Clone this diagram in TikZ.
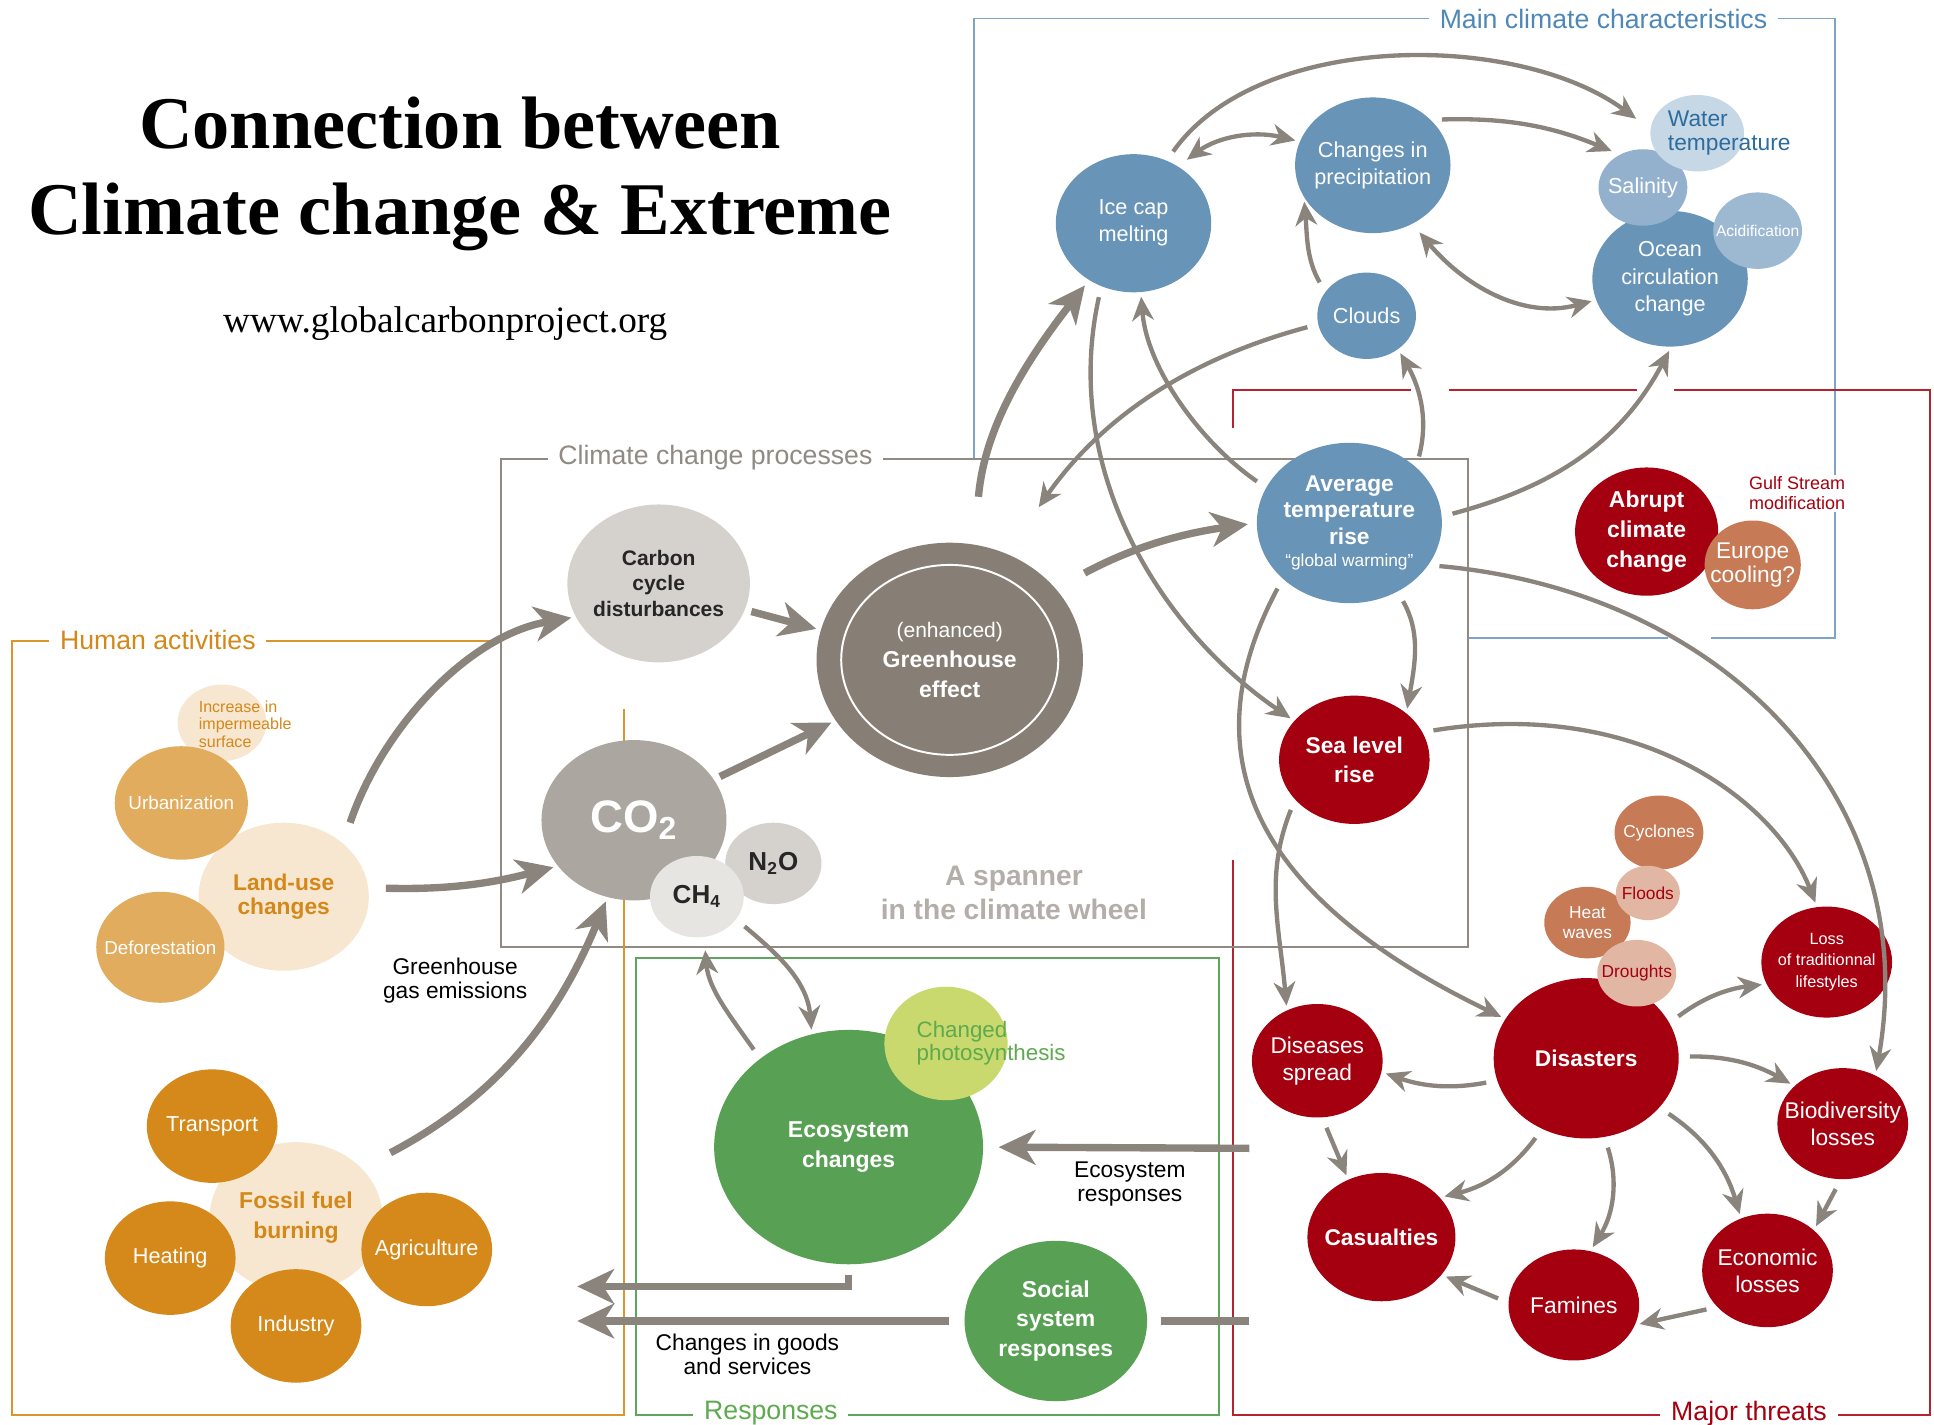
\documentclass[tikz,border=0pt]{standalone}
\usepackage{fontspec}
\setmainfont{Liberation Sans}
\newfontfamily\titlefont{Liberation Serif}
\usetikzlibrary{arrows.meta,shapes.geometric}

\definecolor{arrowgray}{HTML}{8B847C}
\definecolor{frameblue}{HTML}{7FA5C6}
\definecolor{inkblue}{HTML}{4F88B7}
\definecolor{bubblue}{HTML}{6894B8}
\definecolor{salblue}{HTML}{93B1CD}
\definecolor{acidblue}{HTML}{9DB9D2}
\definecolor{waterblue}{HTML}{C6D7E6}
\definecolor{waterink}{HTML}{2D6C9C}
\definecolor{threatred}{HTML}{A5000F}
\definecolor{framered}{HTML}{B42430}
\definecolor{rust}{HTML}{C77A56}
\definecolor{blush}{HTML}{E1B7A3}
\definecolor{framegray}{HTML}{908A82}
\definecolor{paleash}{HTML}{D5D2CE}
\definecolor{smoke}{HTML}{877F76}
\definecolor{ash}{HTML}{ABA69F}
\definecolor{mist}{HTML}{E7E5E2}
\definecolor{spannergray}{HTML}{B3AEA8}
\definecolor{frameorange}{HTML}{D9962E}
\definecolor{inkorange}{HTML}{D4881A}
\definecolor{sand}{HTML}{E2AC5E}
\definecolor{amber}{HTML}{D4891A}
\definecolor{cream}{HTML}{F7E7D0}
\definecolor{leaf}{HTML}{58A053}
\definecolor{lime}{HTML}{C9D96D}
\definecolor{inkgreen}{HTML}{5DAA4F}
\definecolor{framegreen}{HTML}{5DA65B}

\newcommand{\fsz}[2]{\fontsize{#1}{#2}\selectfont}

\begin{document}
\begin{tikzpicture}[x=0.02cm,y=-0.02cm,
  bub/.style 2 args={ellipse,inner sep=-20pt,minimum width=#1*0.02cm,
    minimum height=#2*0.02cm,align=center},
  climate/.style={fill=bubblue,text=white,font=\fsz{10}{12.5}},
  threat/.style={fill=threatred,text=white,font=\fsz{10.5}{12.5}},
  hazard/.style={fill=rust,text=white,font=\fsz{8}{9}},
  hazardlight/.style={fill=blush,text=threatred,font=\fsz{8}{9}},
  process/.style={fill=paleash,text=black!85,font=\bfseries\fsz{9.7}{11.7}},
  human/.style={fill=amber,text=white,font=\fsz{10}{12}},
  humanlight/.style={fill=sand,text=white,font=\fsz{8.7}{10}},
  activity/.style={fill=cream,text=inkorange,font=\bfseries\fsz{10.5}{11}},
  response/.style={fill=leaf,text=white,font=\bfseries\fsz{10.6}{13.7}},
  caption/.style={align=center,font=\fsz{10.5}{11.4}},
  framelabel/.style={fill=white,inner xsep=5pt,inner ysep=1pt,font=\fsz{12.3}{14}},
  flow/.style={draw=arrowgray,line width=2pt,shorten <=5pt,shorten >=2pt,
    -{Stealth[length=11pt,width=10pt,inset=3.5pt]}},
  bothflow/.style={flow,{Stealth[length=11pt,width=10pt,inset=3.5pt]}-{Stealth[length=11pt,width=10pt,inset=3.5pt]}},
  bigflow/.style={draw=arrowgray,line width=3.4pt,
    -{Stealth[length=17pt,width=16pt,inset=5pt]}},
]
\useasboundingbox (0,0) rectangle (1568,1155);

% title
\node[font=\titlefont\bfseries\fsz{34.3}{40},align=center] (title) at (373,141)
  {Connection between\\Climate change \& Extreme};
\node[font=\titlefont\fsz{17.2}{20}] (url) at (361,262) {www.globalcarbonproject.org};

% frames
\draw[frameblue,line width=0.9pt] (790,372) -- (790,15) -- (1488,15) -- (1488,517) -- (1387,517)
  (1352,517) -- (1190,517);
\draw[framered,line width=0.9pt] (1000,347) -- (1000,316) -- (1144,316)
  (1175,316) -- (1327,316) (1357,316) -- (1565,316) -- (1565,1147) -- (1000,1147) -- (1000,697);
\draw[framegray,line width=0.9pt] (406,372) rectangle (1190,768);
\draw[frameorange,line width=0.9pt] (506,575) -- (506,1147) -- (10,1147) -- (10,520) -- (406,520);
\draw[framegreen,line width=0.9pt] (516,777) rectangle (988,1147);

\node[framelabel,text=inkblue] (mainlbl) at (1300,15) {Main climate characteristics};
\node[framelabel,text=framegray] (proclbl) at (580,371) {Climate change processes};
\node[framelabel,text=inkorange] (humanlbl) at (128,519) {Human activities};
\node[framelabel,text=inkgreen] (resplbl) at (625,1146) {Responses};
\node[framelabel,text=threatred] (threatlbl) at (1418,1146) {Major threats};

% main climate characteristics
\node[climate,bub={126}{112}] (ice) at (919,181) {Ice cap\\melting};
\node[climate,bub={126}{110}] (precip) at (1113,134) {Changes in\\precipitation};
\node[climate,bub={126}{110}] (ocean) at (1354,226) {Ocean\\circulation\\change};
\node[climate,bub={72}{62},fill=salblue] (salinity) at (1332,152) {Salinity};
\node[climate,bub={72}{62},fill=acidblue,font=\fsz{7.2}{8}] (acid) at (1425,187) {Acidification};
\node[bub={76}{62},fill=waterblue] (watertemp) at (1376,108) {};
\node[font=\fsz{10.5}{10.8},text=waterink,align=left] (watertext) at (1402,108) {Water\\temperature};
\node[climate,bub={80}{70}] (clouds) at (1108,256) {Clouds};
\node[climate,bub={150}{130},font=\bfseries\fsz{10.5}{12.2}] (avgtemp) at (1094,424)
  {Average\\temperature\\rise\\[-2pt]{\mdseries\fsz{8}{9}``global warming''}};

% major threats
\node[threat,bub={116}{104},font=\bfseries\fsz{10.6}{13.7}] (abrupt) at (1335,431) {Abrupt\\climate\\change};
\node[hazard,bub={78}{72},font=\fsz{10.5}{11}] (europe) at (1421,458) {Europe\\cooling?};
\node[font=\fsz{8.3}{9.1},text=threatred,align=left,anchor=west,fill=white,inner sep=1pt] (gulf)
  at (1416,400) {Gulf Stream\\modification};
\node[threat,bub={122}{104},font=\bfseries\fsz{10.5}{13.7}] (sealevel) at (1098,616) {Sea level\\rise};
\node[threat,bub={150}{130},font=\bfseries\fsz{10.5}{12}] (disasters) at (1286,858) {Disasters};
\node[hazard,bub={72}{60}] (cyclones) at (1345,675) {Cyclones};
\node[hazard,bub={70}{58}] (heat) at (1287,748) {Heat\\waves};
\node[hazardlight,bub={52}{44}] (floods) at (1336,724) {Floods};
\node[hazardlight,bub={64}{54}] (droughts) at (1327,789) {Droughts};
\node[threat,bub={106}{90},font=\fsz{7.5}{10}] (lifestyles) at (1481,780) {Loss\\of traditionnal\\lifestyles};
\node[threat,bub={106}{92}] (diseases) at (1068,860) {Diseases\\spread};
\node[threat,bub={106}{90}] (biodiv) at (1494,911) {Biodiversity\\losses};
\node[threat,bub={120}{104},font=\bfseries\fsz{10.5}{12}] (casualties) at (1120,1003) {Casualties};
\node[threat,bub={106}{92}] (economic) at (1433,1030) {Economic\\losses};
\node[threat,bub={106}{90}] (famines) at (1276,1058) {Famines};

% climate change processes
\node[process,bub={148}{128}] (carbon) at (534,473) {Carbon\\cycle\\disturbances};
\node[bub={216}{190},fill=smoke,text=white,font=\fsz{9.7}{13.7}] (greenhouse) at (770,535)
  {(enhanced)\\\textbf{\fsz{10.6}{13.7}Greenhouse}\\\textbf{\fsz{10.6}{13.7}effect}};
\draw[white,line width=0.9pt] (greenhouse.center) ellipse [x radius=88,y radius=77];
\node[bub={150}{130},fill=ash,text=white,font=\bfseries\fsz{21}{24}] (co2) at (514,665) {CO\textsubscript{2}};
\node[process,bub={78}{66},font=\bfseries\fsz{12}{14}] (n2o) at (627,700) {N\textsubscript{2}O};
\node[process,bub={76}{66},fill=mist,font=\bfseries\fsz{12}{14}] (ch4) at (565,727) {CH\textsubscript{4}};
\node[font=\bfseries\fsz{13}{15.4},text=spannergray,align=center] (spanner) at (822,724)
  {A spanner\\in the climate wheel};

% human activities
\node[bub={72}{62},fill=cream] (impermeable) at (180,586) {};
\node[font=\fsz{7.4}{8},text=inkorange,align=left,anchor=west] (imperlbl) at (155,587)
  {Increase in\\impermeable\\surface};
\node[activity,bub={138}{120}] (landuse) at (230,727) {Land-use\\changes};
\node[humanlight,bub={108}{92}] (urban) at (147,651) {Urbanization};
\node[humanlight,bub={104}{90}] (deforest) at (130,768) {Deforestation};
\node[activity,bub={140}{122},font=\bfseries\fsz{10.6}{13.7}] (fossil) at (240,987) {Fossil fuel\\burning};
\node[human,bub={106}{92}] (transport) at (172,913) {Transport};
\node[human,bub={106}{92}] (heating) at (138,1020) {Heating};
\node[human,bub={106}{92}] (agri) at (346,1013) {Agriculture};
\node[human,bub={106}{92}] (industry) at (240,1075) {Industry};

% responses
\node[response,bub={218}{190}] (ecosystem) at (688,930) {Ecosystem\\changes};
\node[bub={100}{92},fill=lime] (photosyn) at (767,846) {};
\node[font=\fsz{10.3}{10.8},text=inkgreen,align=left,anchor=west] (photolbl) at (737,846)
  {Changed\\photosynthesis};
\node[response,bub={148}{130}] (social) at (856,1071) {Social\\system\\responses};

% captions
\node[caption] (ghg) at (369,795) {Greenhouse\\gas emissions};
\node[caption] (ecoresp) at (916,960) {Ecosystem\\responses};
\node[caption] (goods) at (606,1098) {Changes in goods\\and services};

\coordinate (ecoin) at (1013,931);
\coordinate (threatin) at (1013,1071);
\coordinate (goodsA) at (468,1043);
\coordinate (goodsB) at (468,1071);

% links between climate characteristics
\draw[bothflow] (ice.52) to[bend left=25] (precip.162);
\draw[flow,shorten >=8pt] (ice.62) .. controls (1020,25) and (1230,25) .. (watertemp.175);
\draw[flow,shorten >=4pt] (precip.38) to[bend left=12] (salinity.125);
\draw[bothflow] (precip.-56) to[out=-50,in=195] (ocean.196);
\draw[flow] (clouds.150) to[out=120,in=-85] (precip.205);
\draw[flow,shorten >=26pt] (clouds.190) to[out=195,in=55] (greenhouse.62);
\draw[flow] (ice.243) .. controls (860,380) and (940,510) .. (sealevel.147);
\draw[flow] (avgtemp.157) .. controls (975,360) and (930,300) .. (ice.276);
\draw[flow] (avgtemp.40) to[out=75,in=-60] (clouds.-47);
\draw[flow] (avgtemp.4) to[out=15,in=-118] (ocean.-89);
\draw[flow] (avgtemp.-55) to[out=-60,in=80] (sealevel.42);
\draw[flow] (avgtemp.-28) .. controls (1400,480) and (1560,650) .. (biodiv.56);
\draw[flow] (avgtemp.220) .. controls (970,600) and (1000,720) .. (disasters.154);

% threats
\draw[flow] (sealevel.214) to[out=-112,in=95] (diseases.121);
\draw[flow] (sealevel.22) .. controls (1330,565) and (1440,650) .. (lifestyles.100);
\draw[flow] (disasters.194) to[bend left=15] (diseases.-10);
\draw[flow] (disasters.23) to[bend left=15] (lifestyles.200);
\draw[flow] (disasters.1) to[bend left=15] (biodiv.142);
\draw[flow] (disasters.238) to[bend left=20] (casualties.34);
\draw[flow] (disasters.-77) to[bend left=25] (famines.73);
\draw[flow] (disasters.-34) to[bend left=20] (economic.117);
\draw[flow] (diseases.-85) -- (casualties.120);
\draw[flow] (biodiv.-92) -- (economic.41);
\draw[flow] (economic.216) -- (famines.-18);
\draw[flow] (famines.178) -- (casualties.-32);

% ecosystem loop
\draw[flow] (ch4.-30) to[out=-40,in=95] (ecosystem.108);
\draw[flow,shorten >=6pt] (ecosystem.135) to[out=125,in=-85] (ch4.-80);

% emissions and greenhouse
\draw[bigflow,shorten <=10pt,shorten >=2pt] (landuse.42) .. controls (310,590) and (380,515) .. (carbon.202);
\draw[bigflow,shorten <=8pt,shorten >=2pt] (landuse.6) to[bend right=8] (co2.211);
\draw[bigflow,shorten <=15pt,shorten >=2pt] (fossil.37) to[bend right=20] (co2.251);
\draw[bigflow,shorten <=3pt,shorten >=2pt] (carbon.-17) -- (greenhouse.167);
\draw[bigflow,shorten <=3pt,shorten >=2pt] (co2.27) -- (greenhouse.208);
\draw[bigflow,shorten <=22pt,shorten >=3pt] (greenhouse.78) to[out=85,in=232] (ice.232);
\draw[bigflow,shorten <=15pt,shorten >=4pt] (greenhouse.34) to[bend left=10] (avgtemp.180);

% responses
\draw[bigflow,shorten >=7pt] (ecoin) -- (ecosystem.east);
\draw[bigflow] ([yshift=-0.16cm]ecosystem.south) |- (goodsA);
\draw[bigflow,shorten <=7pt] (social.west) -- (goodsB);
\draw[bigflow,-,shorten >=6pt] (threatin) -- (social.east);
\end{tikzpicture}
\end{document}
